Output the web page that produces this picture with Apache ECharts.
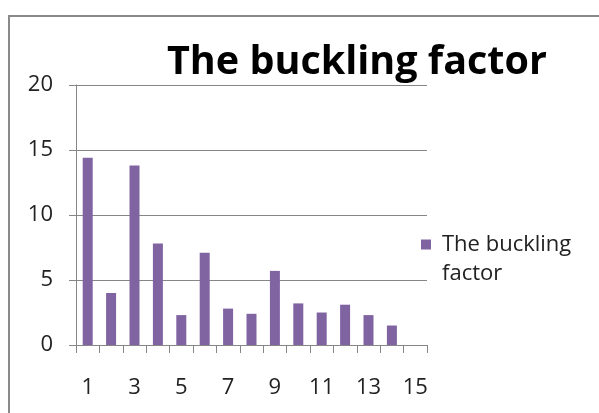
<!DOCTYPE html>
<html>
<head>
<meta charset="utf-8">
<script src="https://cdn.jsdelivr.net/npm/echarts@6/dist/echarts.min.js"></script>
<style>html,body{margin:0;padding:0;background:#fff;}#c{width:599px;height:413px;}</style>
</head>
<body>
<div id="c"></div>
<script>
const chartTitle = 'The buckling factor';
const seriesName = 'The buckling factor';
const legendLines = ['The buckling', 'factor'];
const categories = ['1','2','3','4','5','6','7','8','9','10','11','12','13','14','15'];
const values = [14.4, 4.0, 13.8, 7.8, 2.3, 7.1, 2.8, 2.4, 5.7, 3.2, 2.5, 3.1, 2.3, 1.5];
const yTicks = [0, 5, 10, 15, 20];

const chart = echarts.init(document.getElementById('c'), null, {renderer: 'canvas'});
const font = "'Open Sans', 'Liberation Sans', sans-serif";
const barColor = '#8064A2';
chart.setOption({
  animation: false,
  backgroundColor: '#ffffff',
  title: {
    text: chartTitle,
    left: 162, top: 38,
    textStyle: {fontFamily: font, fontWeight: 'bold', fontSize: 39.5, color: '#000'}
  },
  graphic: [
    {type: 'line', shape: {x1: 8, y1: 16, x2: 599, y2: 16}, style: {stroke: '#8a8a8a', lineWidth: 2}},
    {type: 'line', shape: {x1: 9, y1: 16, x2: 9, y2: 413}, style: {stroke: '#8a8a8a', lineWidth: 2}}
  ],
  legend: {
    left: 416, top: 230, padding: 0,
    icon: 'rect', itemWidth: 0, itemHeight: 0, itemGap: 0,
    formatter: function () { return '{sq|}{t|' + legendLines[0] + '}\n{t2|' + legendLines[1] + '}'; },
    textStyle: {
      fontFamily: font, fontSize: 22, color: '#222', lineHeight: 29, padding: 0,
      rich: {
        sq: {width: 10, height: 10, backgroundColor: barColor},
        t: {fontFamily: font, fontSize: 22, color: '#222', lineHeight: 29, padding: [0, 0, 0, 11]},
        t2: {fontFamily: font, fontSize: 22, color: '#222', lineHeight: 29, padding: [0, 0, 0, 21]}
      }
    },
    data: [seriesName]
  },
  grid: {left: 76, right: 172, top: 85, bottom: 68, containLabel: false},
  xAxis: {
    type: 'category',
    data: categories,
    boundaryGap: true,
    axisLine: {lineStyle: {color: '#868686', width: 1}},
    axisTick: {show: true, interval: 0, length: 8, lineStyle: {color: '#868686'}},
    axisLabel: {interval: 1, margin: 32, fontFamily: font, fontSize: 22, color: '#222'}
  },
  yAxis: {
    type: 'value',
    min: yTicks[0], max: yTicks[yTicks.length - 1], interval: 5,
    axisLine: {show: true, lineStyle: {color: '#868686', width: 1}},
    axisTick: {show: true, length: 7, lineStyle: {color: '#868686'}},
    axisLabel: {margin: 23, fontFamily: font, fontSize: 22, color: '#222'},
    splitLine: {show: true, lineStyle: {color: '#868686', width: 1}}
  },
  series: [{
    name: seriesName,
    type: 'bar',
    data: values,
    barWidth: 10,
    itemStyle: {color: barColor}
  }]
});
</script>
</body>
</html>
